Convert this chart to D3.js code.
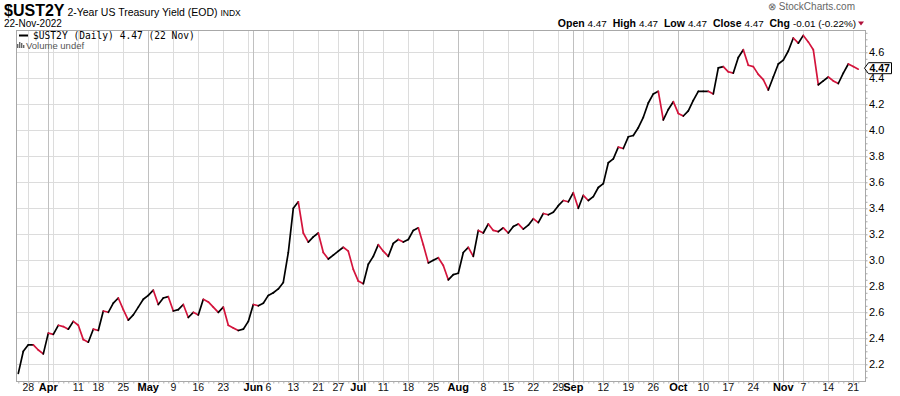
<!DOCTYPE html>
<html>
<head>
<meta charset="utf-8">
<script src="https://cdn.jsdelivr.net/npm/d3@7"></script>
<style>
  body { margin: 0; background: #fff; }
  svg { display: block; font-family: "Liberation Sans", Arial, sans-serif; }
</style>
</head>
<body>
<div id="chart"></div>
<script>
// 資料: 2年期美債殖利率 (日線, 2022-03-24 ~ 2022-11-22)
const startDate = "2022-03-24";
const endDate = "2022-11-22";
const holidays = ["2022-04-15", "2022-05-30", "2022-06-20", "2022-07-04", "2022-09-05"];

const yields = [
  2.13, 2.30, 2.35, 2.35, 2.31, 2.28, 2.44, 2.43, 2.50, 2.49,
  2.47, 2.53, 2.50, 2.39, 2.37, 2.47, 2.46, 2.61, 2.60, 2.67,
  2.71, 2.62, 2.54, 2.58, 2.64, 2.70, 2.73, 2.77, 2.66, 2.71,
  2.72, 2.61, 2.62, 2.66, 2.56, 2.60, 2.58, 2.70, 2.68, 2.64,
  2.60, 2.64, 2.50, 2.48, 2.46, 2.47, 2.53, 2.66, 2.65, 2.67,
  2.73, 2.75, 2.78, 2.83, 3.06, 3.40, 3.45, 3.21, 3.14, 3.18,
  3.21, 3.06, 3.01, 3.04, 3.07, 3.10, 3.07, 2.93, 2.84, 2.82,
  2.97, 3.03, 3.12, 3.07, 3.03, 3.13, 3.16, 3.14, 3.16, 3.23,
  3.25, 3.12, 2.98, 3.00, 3.02, 2.96, 2.85, 2.89, 2.90, 3.06,
  3.10, 3.03, 3.23, 3.21, 3.28, 3.23, 3.22, 3.25, 3.21, 3.26,
  3.28, 3.24, 3.27, 3.32, 3.29, 3.36, 3.35, 3.37, 3.42, 3.46,
  3.45, 3.52, 3.40, 3.50, 3.46, 3.49, 3.56, 3.59, 3.75, 3.78,
  3.87, 3.86, 3.95, 3.96, 4.02, 4.10, 4.21, 4.28, 4.30, 4.08,
  4.16, 4.22, 4.13, 4.11, 4.15, 4.23, 4.30, 4.30, 4.30, 4.28,
  4.48, 4.49, 4.45, 4.44, 4.56, 4.62, 4.50, 4.49, 4.43, 4.39,
  4.31, 4.41, 4.51, 4.54, 4.61, 4.71, 4.67, 4.73, 4.68, 4.62,
  4.35, 4.38, 4.41, 4.38, 4.36, 4.44, 4.51, 4.49, 4.47
];

const yTicks = [2.2, 2.4, 2.6, 2.8, 3.0, 3.2, 3.4, 3.6, 3.8, 4.0, 4.2, 4.4, 4.6];
const ohlc = [["Open", "4.47"], ["High", "4.47"], ["Low", "4.47"], ["Close", "4.47"], ["Chg", "-0.01 (-0.22%)"]];

// 交易日 (週末與休市日除外)
const parse = d3.timeParse("%Y-%m-%d");
const fmt = d3.timeFormat("%Y-%m-%d");
const dates = d3.timeDay.range(parse(startDate), d3.timeDay.offset(parse(endDate), 1))
  .filter(d => d.getDay() !== 0 && d.getDay() !== 6 && !holidays.includes(fmt(d)));

const data = dates.map((d, i) => ({date: d, i: i, v: yields[i]}));

// 尺寸
const width = 900;
const height = 396;
const plot = {left: 16, right: 865, top: 30, bottom: 381};

const xScale = d3.scaleLinear()
  .domain([-0.46, data.length + 0.34])
  .range([plot.left, plot.right]);

const yScale = d3.scaleLinear()
  .domain([2.0715, 4.7715])
  .range([plot.bottom, plot.top]);

const svg = d3.select("#chart").append("svg")
  .attr("width", width)
  .attr("height", height);

// 月份與每週第一個交易日
const monthStarts = data.filter((d, i) => i === 0 ? false : d.date.getMonth() !== data[i - 1].date.getMonth());
const weekStarts = data.filter((d, i) => i > 0 && d3.timeMonday.floor(d.date) > d3.timeMonday.floor(data[i - 1].date));

// 格線
const grid = svg.append("g");
grid.selectAll(".hgrid")
  .data(yTicks)
  .join("line")
  .attr("x1", plot.left).attr("x2", plot.right)
  .attr("y1", d => Math.round(yScale(d)) + 0.5)
  .attr("y2", d => Math.round(yScale(d)) + 0.5)
  .attr("stroke", "#dcdcdc");

grid.selectAll(".wgrid")
  .data(weekStarts)
  .join("line")
  .attr("x1", d => Math.round(xScale(d.i)) + 0.5)
  .attr("x2", d => Math.round(xScale(d.i)) + 0.5)
  .attr("y1", plot.top).attr("y2", plot.bottom)
  .attr("stroke", "#dcdcdc");

grid.selectAll(".mgrid")
  .data(monthStarts)
  .join("line")
  .attr("x1", d => Math.round(xScale(d.i)) + 0.5)
  .attr("x2", d => Math.round(xScale(d.i)) + 0.5)
  .attr("y1", plot.top).attr("y2", plot.bottom)
  .attr("stroke", "#c0c0c0");

// 外框
svg.append("rect")
  .attr("x", plot.left + 0.5).attr("y", plot.top + 0.5)
  .attr("width", plot.right - plot.left).attr("height", plot.bottom - plot.top)
  .attr("fill", "none")
  .attr("stroke", "#a8a8a8");

// 右側 Y 軸
const yAxis = d3.axisRight(yScale)
  .tickValues(d3.range(2.1, 4.76, 0.05))
  .tickSize(2)
  .tickFormat("");
svg.append("g")
  .attr("transform", `translate(${plot.right + 0.5},0)`)
  .call(yAxis)
  .call(g => g.select(".domain").remove())
  .call(g => g.selectAll("line").attr("stroke", "#a8a8a8"));

svg.append("g")
  .selectAll("text")
  .data(yTicks)
  .join("text")
  .attr("x", plot.right + 4)
  .attr("y", d => yScale(d) + 4)
  .style("font-size", "11px")
  .attr("fill", "#000")
  .text(d => d.toFixed(1));

// 底部 X 軸 (每個交易日小刻度)
const xAxis = d3.axisBottom(xScale)
  .tickValues(data.map(d => d.i))
  .tickSize(2)
  .tickFormat("");
svg.append("g")
  .attr("transform", `translate(0,${plot.bottom + 0.5})`)
  .call(xAxis)
  .call(g => g.select(".domain").remove())
  .call(g => g.selectAll("line").attr("stroke", "#b0b0b0"));

// X 軸標籤
const monthIdx = monthStarts.map(d => d.i);
const weekLabels = weekStarts.filter(d => monthIdx.every(m => Math.abs(m - d.i) >= 3));
const firstLabel = [data[2]].filter(d => !weekLabels.includes(d));

svg.append("g")
  .selectAll("text")
  .data(weekLabels.concat(firstLabel))
  .join("text")
  .attr("x", d => xScale(d.i))
  .attr("y", 391)
  .attr("text-anchor", "middle")
  .style("font-size", "10.5px")
  .attr("fill", "#111")
  .text(d => d.date.getDate());

svg.append("g")
  .selectAll("text")
  .data(monthStarts)
  .join("text")
  .attr("x", d => xScale(d.i))
  .attr("y", 391)
  .attr("text-anchor", "middle")
  .style("font-size", "11px")
  .style("font-weight", "bold")
  .attr("fill", "#000")
  .text(d => d3.timeFormat("%b")(d.date));

// 價格線: 上漲黑色, 下跌紅色
const line = d3.line()
  .x(d => xScale(d.i))
  .y(d => yScale(d.v));

svg.append("g")
  .selectAll("path")
  .data(d3.pairs(data))
  .join("path")
  .attr("d", d => line(d))
  .attr("fill", "none")
  .attr("stroke", d => d[1].v < d[0].v ? "#d4143c" : "#000")
  .attr("stroke-width", 1.7)
  .attr("stroke-linecap", "round");

// 最新值標籤
const last = data[data.length - 1];
const ly = yScale(last.v) - 1;
svg.append("path")
  .attr("d", `M${plot.right - 0.5},${ly} L${plot.right + 3.5},${ly - 5.5} L${plot.right + 26.5},${ly - 5.5} L${plot.right + 26.5},${ly + 5.5} L${plot.right + 3.5},${ly + 5.5} Z`)
  .attr("fill", "#fff")
  .attr("stroke", "#000")
  .attr("stroke-width", 1);
svg.append("text")
  .attr("x", plot.right + 4.5)
  .attr("y", ly + 4)
  .style("font-size", "10.5px")
  .style("font-weight", "bold")
  .text(last.v.toFixed(2));

// 標題
const title = svg.append("text").attr("x", 4).attr("y", 16);
title.append("tspan").style("font-size", "16px").style("font-weight", "bold").text("$UST2Y");
title.append("tspan").style("font-size", "10.5px").text(" 2-Year US Treasury Yield (EOD) ");
title.append("tspan").style("font-size", "8.5px").text("INDX");

svg.append("text")
  .attr("x", 4).attr("y", 27)
  .style("font-size", "10px")
  .text("22-Nov-2022");

svg.append("text")
  .attr("x", 855).attr("y", 10)
  .attr("text-anchor", "end")
  .style("font-size", "10px")
  .attr("fill", "#666")
  .text("⊗ StockCharts.com");

const info = svg.append("text")
  .attr("x", 856).attr("y", 27)
  .attr("text-anchor", "end")
  .attr("xml:space", "preserve")
  .style("font-size", "9.9px");
ohlc.forEach(([k, v], i) => {
  info.append("tspan").style("font-weight", "bold").style("font-size", "10.5px").text((i ? "  " : "") + k + " ");
  info.append("tspan").text(v);
});

svg.append("path")
  .attr("d", "M858,21.5 L864,21.5 L861,25.5 Z")
  .attr("fill", "#b0103a");

// 圖例
svg.append("line")
  .attr("x1", 19).attr("x2", 28)
  .attr("y1", 35.5).attr("y2", 35.5)
  .attr("stroke", "#000")
  .attr("stroke-width", 2);
svg.append("text")
  .attr("x", 33).attr("y", 39)
  .style("font-family", "'DejaVu Sans Mono', monospace")
  .style("font-size", "9.6px")
  .text("$UST2Y (Daily) 4.47 (22 Nov)");

const icon = svg.append("g").attr("fill", "#666");
[[17, 44, 4], [19, 42, 6], [21, 43, 5], [23, 45, 3]].forEach(([x, y, h]) => {
  icon.append("rect").attr("x", x).attr("y", y).attr("width", 1.4).attr("height", h);
});
svg.append("text")
  .attr("x", 26).attr("y", 48.5)
  .style("font-size", "9.5px")
  .attr("fill", "#555")
  .text("Volume undef");
</script>
</body>
</html>
